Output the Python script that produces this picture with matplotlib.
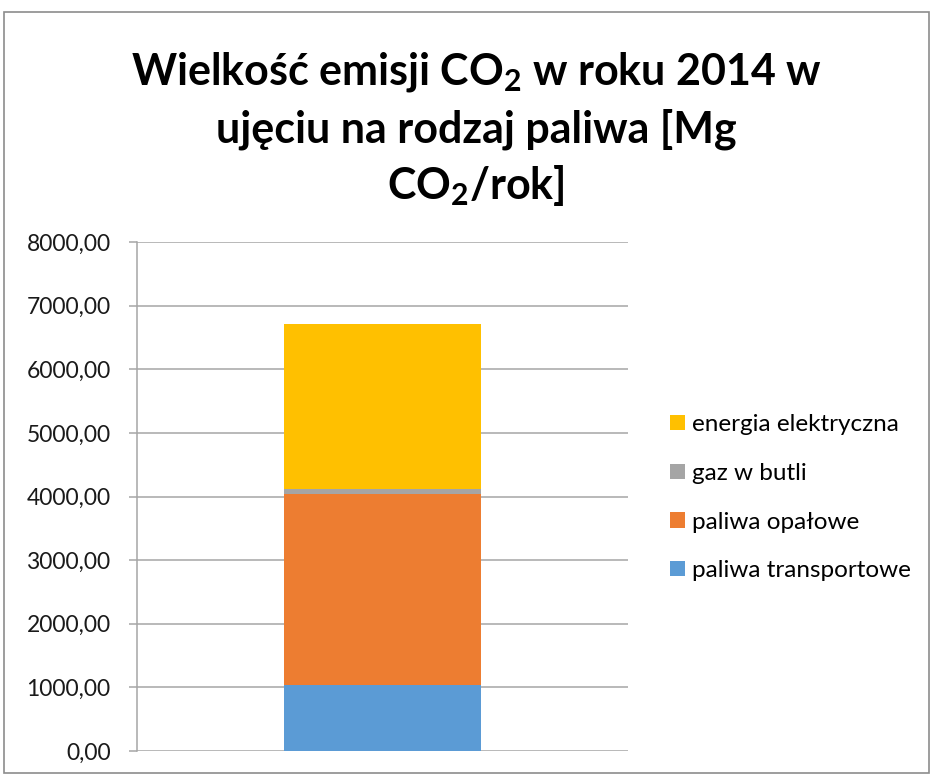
import matplotlib
matplotlib.use("Agg")
import matplotlib.pyplot as plt
from matplotlib.patches import Rectangle, Patch

plt.rcParams['font.family'] = ['Lato', 'DejaVu Sans']
plt.rcParams['mathtext.fontset'] = 'custom'
plt.rcParams['mathtext.rm'] = 'Lato'
plt.rcParams['mathtext.bf'] = 'Lato:bold'

categories = ["2014"]
series_names = ["paliwa transportowe", "paliwa opałowe", "gaz w butli", "energia elektryczna"]
series_values = [[1042], [3000], [80], [2591]]
colors = ["#5B9BD5", "#ED7D31", "#A5A5A5", "#FFC000"]
yticks = [0, 1000, 2000, 3000, 4000, 5000, 6000, 7000, 8000]
ytick_labels = ["0,00", "1000,00", "2000,00", "3000,00", "4000,00", "5000,00", "6000,00", "7000,00", "8000,00"]

W, H = 931, 774
fig = plt.figure(figsize=(W / 100, H / 100), dpi=100)

# chart frame
fig.patches.append(Rectangle((4 / W, 1 - 773 / H), 925 / W, 761 / H, transform=fig.transFigure,
                             fill=False, edgecolor="#8C8C8C", linewidth=1.2))

ax = fig.add_axes([137 / W, 1 - 751 / H, 491 / W, 509 / H])
x = list(range(len(categories)))
bottom = [0] * len(categories)
for name, vals, c in zip(series_names, series_values, colors):
    ax.bar(x, vals, width=0.4, bottom=bottom, color=c, label=name, zorder=3)
    bottom = [b + v for b, v in zip(bottom, vals)]

ax.set_xlim(-0.5, 0.5)
ax.set_ylim(0, 8000)
ax.set_yticks(yticks)
ax.set_yticklabels(ytick_labels, fontsize=16.5, color="#1a1a1a")
ax.set_xticks([])
ax.grid(axis="y", color="#A6A6A6", linewidth=1.1, zorder=0)
for s in ["top", "right", "bottom"]:
    ax.spines[s].set_visible(False)
ax.spines["left"].set_color("#A6A6A6")
ax.spines["left"].set_linewidth(1.1)
ax.tick_params(axis="y", length=6, color="#A6A6A6", width=1.1, pad=13)

handles = [Patch(facecolor=c) for c in colors][::-1]
labels = series_names[::-1]
fig.legend(handles, labels, loc="upper left", bbox_to_anchor=(658 / W, 1 - 402 / H),
           frameon=False, fontsize=17.5, handlelength=0.6, handleheight=0.6,
           handletextpad=0.3, labelspacing=1.14, borderpad=0)

title_lines = [r"Wielkość emisji CO$_{\mathbf{2}}$ w roku 2014 w",
               "ujęciu na rodzaj paliwa [Mg",
               r"CO$_{\mathbf{2}}$/rok]"]
for i, t in enumerate(title_lines):
    fig.text(476 / W, 1 - (85 + 57 * i) / H, t, ha="center", va="baseline",
             fontsize=31, fontweight="bold", color="#000000")

fig.savefig("out.png", dpi=100)
